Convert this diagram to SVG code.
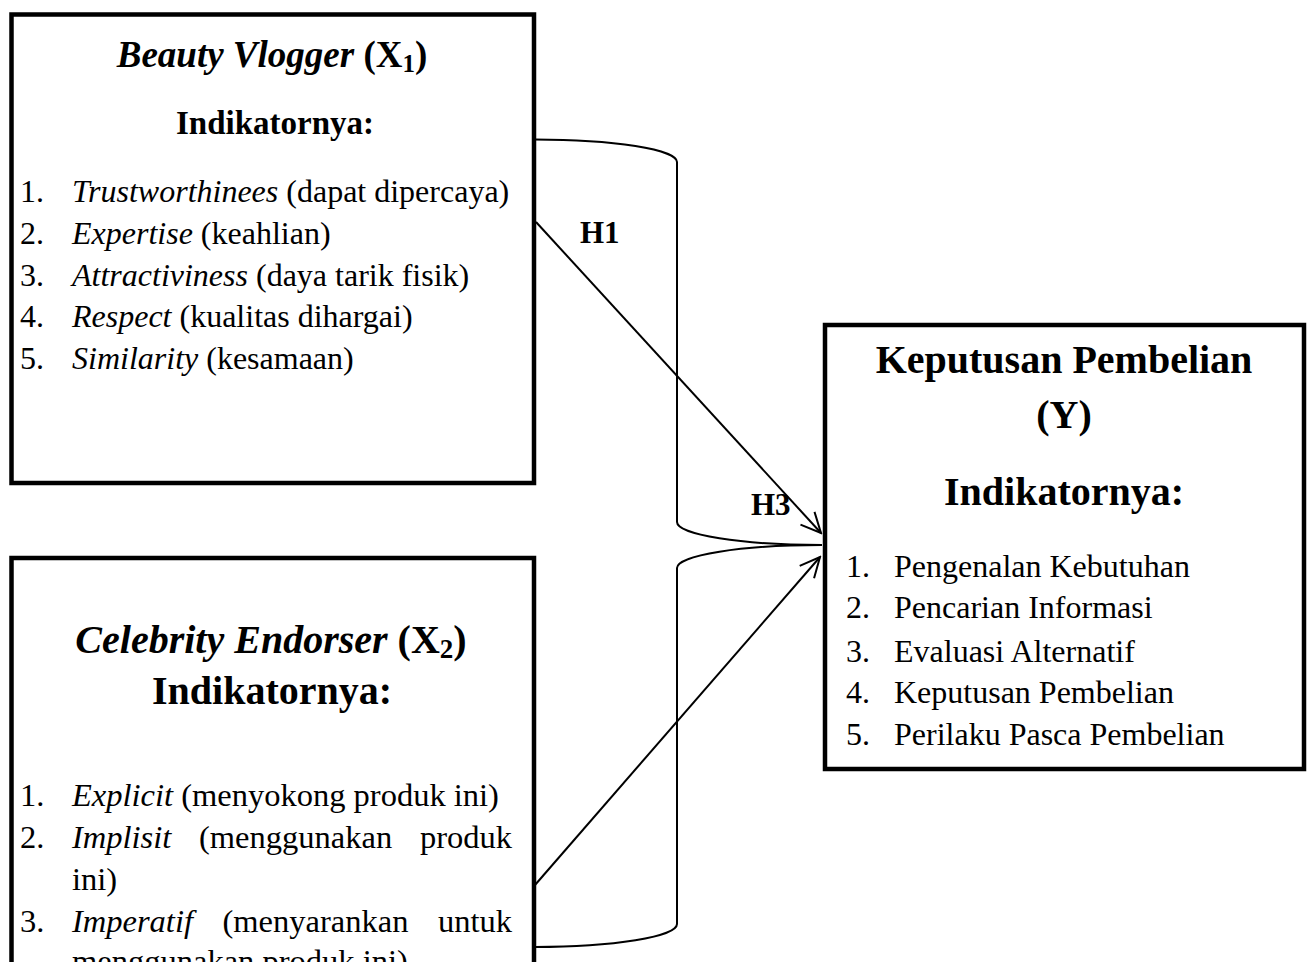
<svg xmlns="http://www.w3.org/2000/svg" width="1310" height="962" viewBox="0 0 1310 962">
<style>
  text { font-family: "Liberation Serif", "Times New Roman", serif; fill: #000; }
  .box { fill: #fff; stroke: #000; stroke-width: 4.5; }
  .b { font-weight: bold; }
  .i { font-style: italic; }
  .itemA { font-size: 32px; }
  .itemB { font-size: 32.5px; }
  .item32 { font-size: 32px; }
  .conn { fill: none; stroke: #000; stroke-width: 2; }
  .lbl { font-size: 31px; font-weight: bold; }
</style>
<defs>
  <marker id="arr" viewBox="-22 -12 24 24" refX="0" refY="0" markerWidth="24" markerHeight="24" markerUnits="userSpaceOnUse" orient="auto">
    <path d="M-20,-9.5 L0,0 L-20,9.5" fill="none" stroke="#000" stroke-width="2"/>
  </marker>
</defs>
<rect width="1310" height="962" fill="#fff"/>

<g id="connectors">
  <path class="conn" d="M535,139.5 A142,22.5 0 0 1 677,162 L677,522 A145,23 0 0 0 822,545 A145,23 0 0 0 677,568 L677,924 A142,23 0 0 1 535,947"/>
  <line class="conn" x1="536" y1="222" x2="821" y2="533" marker-end="url(#arr)"/>
  <line class="conn" x1="535" y1="885" x2="820" y2="557" marker-end="url(#arr)"/>
  <text class="lbl" x="580" y="243">H1</text>
  <text class="lbl" x="751" y="515">H3</text>
</g>

<g id="x1">
  <rect class="box" x="11.5" y="14.5" width="522.5" height="468.5"/>
  <text x="272" y="67" text-anchor="middle" font-size="37" class="b"><tspan class="i">Beauty Vlogger</tspan> (X<tspan font-size="25" dy="5">1</tspan><tspan dy="-5">)</tspan></text>
  <text x="275" y="134" text-anchor="middle" font-size="33" class="b">Indikatornya:</text>
  <text class="itemA" x="20" y="202">1.<tspan x="72" class="i">Trustworthinees</tspan> (dapat dipercaya)</text>
  <text class="itemA" x="20" y="244">2.<tspan x="72" class="i">Expertise</tspan> (keahlian)</text>
  <text class="itemA" x="20" y="285.5">3.<tspan x="72" class="i">Attractiviness</tspan> (daya tarik fisik)</text>
  <text class="itemA" x="20" y="327">4.<tspan x="72" class="i">Respect</tspan> (kualitas dihargai)</text>
  <text class="itemA" x="20" y="369">5.<tspan x="72" class="i">Similarity</tspan> (kesamaan)</text>
</g>

<g id="x2">
  <rect class="box" x="11.5" y="558" width="522.5" height="460"/>
  <text x="271" y="653" text-anchor="middle" font-size="40" class="b"><tspan class="i">Celebrity Endorser</tspan> (X<tspan font-size="27" dy="5">2</tspan><tspan dy="-5">)</tspan></text>
  <text x="272" y="704" text-anchor="middle" font-size="40" class="b">Indikatornya:</text>
  <text class="itemB" x="20" y="806">1.<tspan x="72" class="i">Explicit</tspan> (menyokong produk ini)</text>
  <text class="itemB" x="20" y="848">2.<tspan x="72" class="i">Implisit</tspan><tspan x="199">(menggunakan</tspan><tspan x="420">produk</tspan></text>
  <text class="itemB" x="72" y="890">ini)</text>
  <text class="itemB" x="20" y="932">3.<tspan x="72" class="i">Imperatif</tspan><tspan x="222.5">(menyarankan</tspan><tspan x="438">untuk</tspan></text>
  <text class="itemB" x="72" y="972">menggunakan produk ini)</text>
</g>

<g id="y">
  <rect class="box" x="825" y="325" width="479" height="444"/>
  <text x="1064" y="373" text-anchor="middle" font-size="40" class="b">Keputusan Pembelian</text>
  <text x="1064" y="428" text-anchor="middle" font-size="40" class="b">(Y)</text>
  <text x="1064" y="505" text-anchor="middle" font-size="40" class="b">Indikatornya:</text>
  <text class="item32" x="846" y="576.7">1.<tspan x="894">Pengenalan Kebutuhan</tspan></text>
  <text class="item32" x="846" y="618.3">2.<tspan x="894">Pencarian Informasi</tspan></text>
  <text class="item32" x="846" y="661.7">3.<tspan x="894">Evaluasi Alternatif</tspan></text>
  <text class="item32" x="846" y="703.3">4.<tspan x="894">Keputusan Pembelian</tspan></text>
  <text class="item32" x="846" y="745">5.<tspan x="894">Perilaku Pasca Pembelian</tspan></text>
</g>
</svg>
